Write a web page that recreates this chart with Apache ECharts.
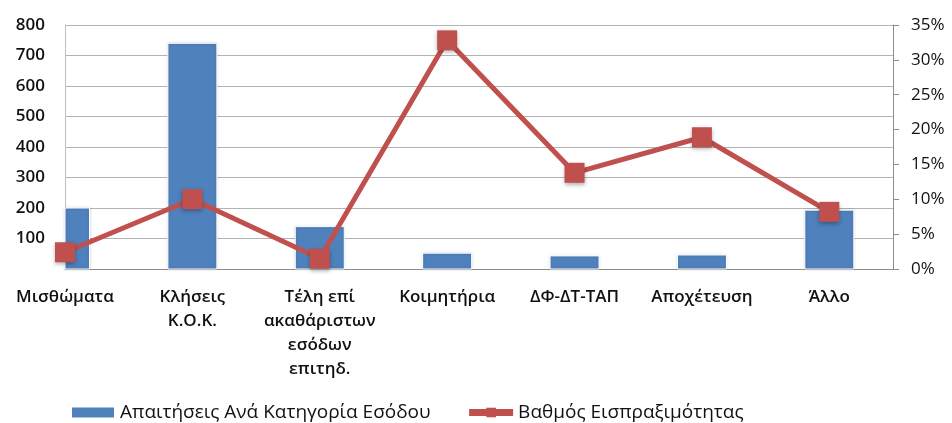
<!DOCTYPE html>
<html>
<head>
<meta charset="utf-8">
<script src="https://cdn.jsdelivr.net/npm/echarts@6/dist/echarts.min.js"></script>
<style>
html,body{margin:0;padding:0;background:#fff;}
#chart{width:952px;height:423px;}
</style>
</head>
<body>
<div id="chart"></div>
<script>
const categories = ['Μισθώματα', 'Κλήσεις\nΚ.Ο.Κ.', 'Τέλη επί\nακαθάριστων\nεσόδων\nεπιτηδ.', 'Κοιμητήρια', 'ΔΦ-ΔΤ-ΤΑΠ', 'Αποχέτευση', 'Άλλο'];
const claims = [200, 740, 139, 52, 43, 46, 193];
const collectionRate = [2.4, 10.0, 1.5, 32.8, 13.8, 18.9, 8.2];
const leftTicks = [0, 800, 100];
const rightTicks = [0, 35, 5];
const seriesNames = ['Απαιτήσεις Ανά Κατηγορία Εσόδου', 'Βαθμός Εισπραξιμότητας'];

const FONT = 'Open Sans';
const BAR_W = 49;
const chart = echarts.init(document.getElementById('chart'), null, {renderer: 'canvas'});
chart.setOption({
  animation: false,
  textStyle: {fontFamily: FONT},
  grid: {left: 65, right: 59, top: 25, bottom: 154, containLabel: false},
  legend: {
    left: 65, top: 398,
    itemGap: 35, itemWidth: 44, itemHeight: 12,
    textStyle: {fontFamily: FONT, fontSize: 19, color: '#111'},
    data: [
      {name: seriesNames[0], icon: 'rect'},
      {name: seriesNames[1], lineStyle: {width: 7}}
    ]
  },
  xAxis: {
    type: 'value', min: 0, max: categories.length - 0.5, interval: 1,
    axisLine: {show: true, lineStyle: {color: '#8c8c8c', width: 1}},
    axisTick: {show: false},
    splitLine: {show: false},
    axisLabel: {
      showMaxLabel: false,
      margin: 16,
      fontFamily: FONT, fontSize: 17, fontWeight: 600, color: '#111',
      lineHeight: 24, align: 'center',
      formatter: v => (Number.isInteger(v) && categories[v] !== undefined) ? categories[v] : ''
    }
  },
  yAxis: [
    {
      type: 'value', min: leftTicks[0], max: leftTicks[1], interval: leftTicks[2],
      axisLine: {show: true, lineStyle: {color: '#bfbfbf'}},
      axisTick: {show: false},
      splitLine: {show: true, lineStyle: {color: '#b3b3b3', width: 1}},
      axisLabel: {
        showMinLabel: false, margin: 20,
        fontFamily: FONT, fontSize: 17, fontWeight: 600, color: '#111'
      }
    },
    {
      type: 'value', min: rightTicks[0], max: rightTicks[1], interval: rightTicks[2],
      position: 'right',
      axisLine: {show: true, lineStyle: {color: '#8c8c8c'}},
      axisTick: {show: true, inside: false, length: 6, lineStyle: {color: '#8c8c8c'}},
      splitLine: {show: false},
      axisLabel: {
        margin: 18,
        fontFamily: FONT, fontSize: 17, color: '#111',
        formatter: '{value}%'
      }
    }
  ],
  series: [
    {
      name: seriesNames[0], type: 'custom', yAxisIndex: 0,
      encode: {x: 0, y: 1},
      itemStyle: {color: '#4F81BD', borderColor: '#ffffff', borderWidth: 1,
        shadowColor: 'rgba(0,0,0,0.15)', shadowBlur: 3},
      renderItem: function (params, api) {
        const x = api.value(0), v = api.value(1);
        const top = api.coord([x, v]);
        const base = api.coord([x, 0]);
        const cs = params.coordSys;
        const shape = echarts.graphic.clipRectByRect(
          {x: top[0] - BAR_W / 2, y: top[1], width: BAR_W, height: base[1] - top[1]},
          {x: cs.x, y: cs.y, width: cs.width, height: cs.height}
        );
        return shape && {type: 'rect', shape: shape, style: api.style()};
      },
      data: claims.map((v, i) => [i, v]),
      z: 2
    },
    {
      name: seriesNames[1], type: 'line', yAxisIndex: 1,
      clip: false,
      symbol: 'rect', symbolSize: 20,
      lineStyle: {color: '#C0504D', width: 5},
      itemStyle: {color: '#C0504D', shadowColor: 'rgba(0,0,0,0.3)', shadowBlur: 4, shadowOffsetY: 2},
      data: collectionRate.map((v, i) => [i, v]),
      z: 3
    }
  ]
});
</script>
</body>
</html>
